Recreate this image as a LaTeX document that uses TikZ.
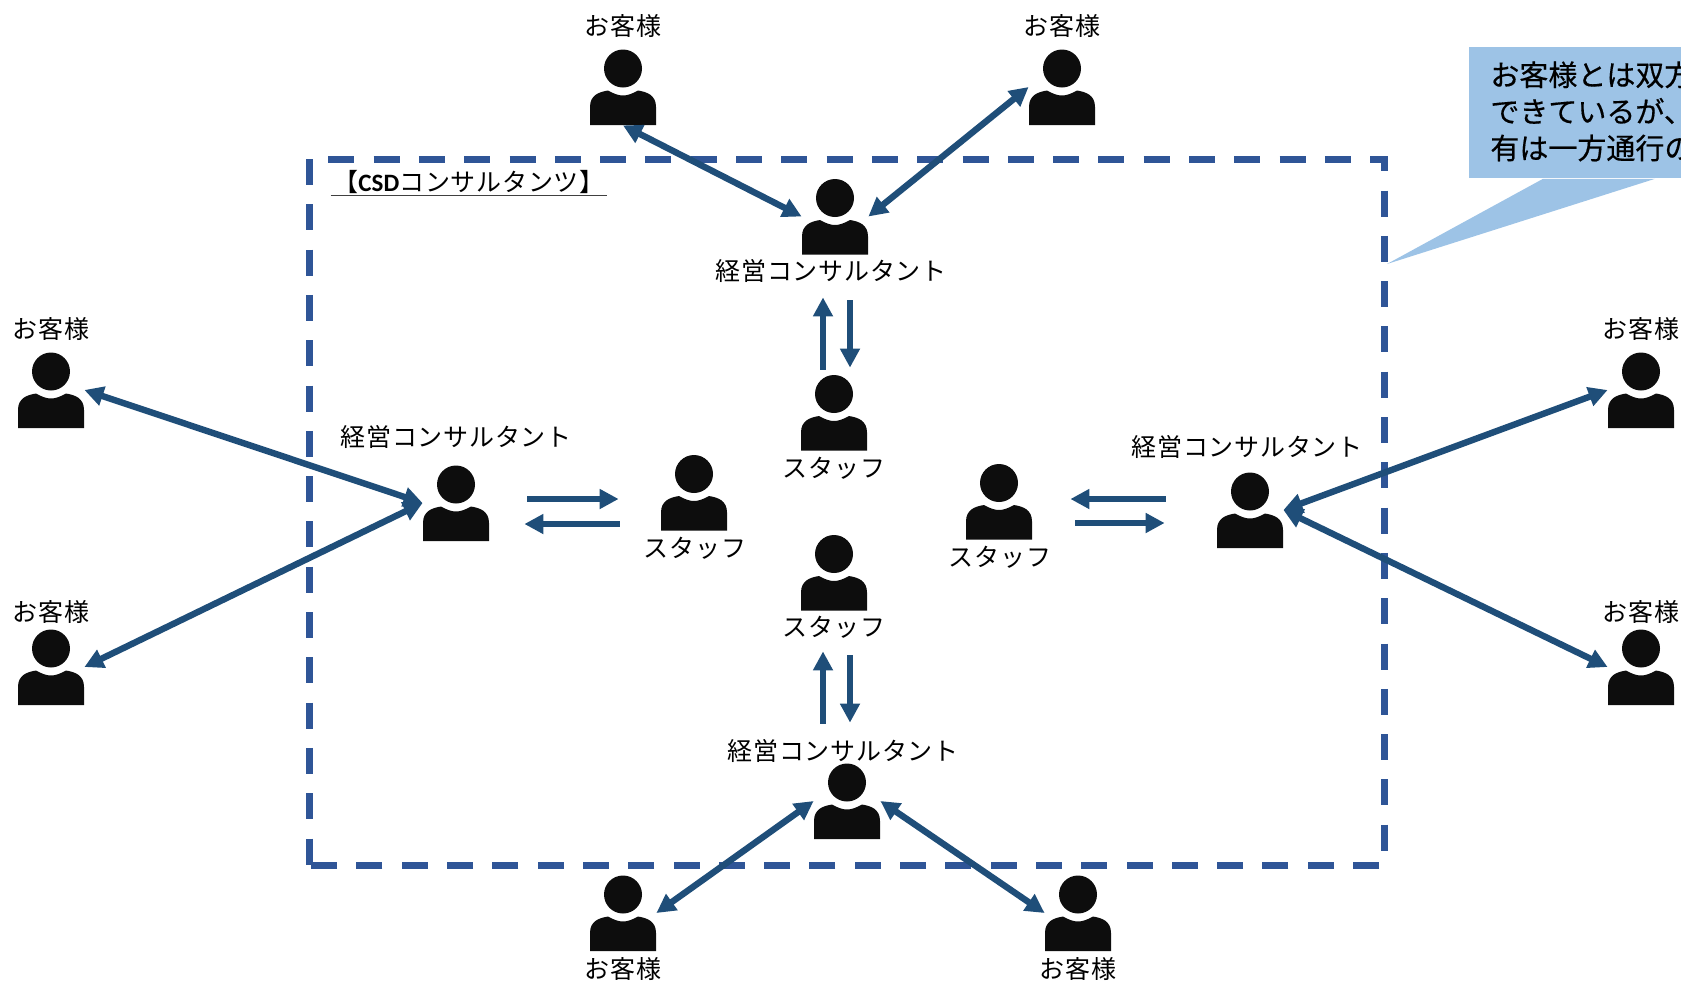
\documentclass[tikz,border=0pt]{standalone}
\usepackage{fontspec}
\setmainfont[LetterSpace=3]{Noto Sans CJK JP}
\newfontfamily\notefont[FakeBold=0.4]{Noto Sans CJK JP}
\newfontfamily\latinfont[BoldFont=Carlito Bold]{Carlito}
\usetikzlibrary{shapes}
\usetikzlibrary{arrows.meta}
\definecolor{linkblue}{HTML}{1F4E79}
\definecolor{boxblue}{HTML}{2F5597}
\definecolor{noteblue}{HTML}{9DC3E6}
\definecolor{iconblack}{HTML}{0D0D0D}
\tikzset{
	lbl_n/.style = {align=center, inner sep=0pt, text centered,
		font=\fontsize{12.5pt}{15pt}\selectfont},% texte sous ou sur un pictogramme
	pers_n/.style = {rectangle, inner sep=0pt, minimum width=33pt, minimum height=38pt,
		path picture={
			\fill[iconblack, shift={(path picture bounding box.center)}]
				(0,-18.5) circle (9.5pt)
				(-33,38) -- (-33,20) .. controls (-33,8) and (-24,5) .. (-15,3.5)
				.. controls (-9,7) and (-4,8.5) .. (0,8.5)
				.. controls (4,8.5) and (9,7) .. (15,3.5)
				.. controls (24,5) and (33,8) .. (33,20) -- (33,38) -- cycle;
		}},% pictogramme
	link_n/.style = {draw=linkblue, line width=3.2pt, >={Triangle[length=9.5pt,width=9.5pt]}},% liaison
	box_n/.style = {draw=boxblue, line width=3.5pt, dash pattern=on 13pt off 9.65pt},
	note_n/.style = {rectangle, fill=noteblue, anchor=north west, inner xsep=10.5pt, inner ysep=0pt,
		text width=110pt, align=left, text height=19.2pt, text depth=46.3pt,
		font=\notefont\fontsize{14.5pt}{18.3pt}\selectfont}
}
\begin{document}
\begin{tikzpicture}[x=0.5pt,y=-0.5pt]
	\useasboundingbox (0,0) rectangle (1681,981);
	% cadre
	\draw[box_n, dash phase=13pt] (309,159) -- (1384,159) -- (1384,865) -- (309,865);
	\draw[box_n] (309,159) -- (309,865);
	\node[lbl_n, minimum width=138pt, text height=11pt, text depth=2pt] (title) at (469,182)
		{【{\latinfont\bfseries CSD}コンサルタンツ】};
	\draw[black!75, line width=0.7pt] (title.south west) -- (title.south east);
	% bulle
	\coordinate (tip) at (1387,264);
	\node[note_n] (note) at (1469,47) {お客様とは双方\\できているが、\\有は一方通行の};
	\fill[noteblue] ([xshift=37pt]note.south west) -- (tip) -- ([xshift=93pt]note.south west) -- cycle;
	% pictogrammes
	\node[pers_n] (cust_a) at (623,87) {};
	\node[pers_n] (cust_b) at (1062,87) {};
	\node[pers_n] (cust_c) at (51,390) {};
	\node[pers_n] (cust_d) at (51,667) {};
	\node[pers_n] (cust_e) at (1641,390) {};
	\node[pers_n] (cust_f) at (1641,667) {};
	\node[pers_n] (cust_g) at (623,913) {};
	\node[pers_n] (cust_h) at (1078,913) {};
	\node[pers_n] (cons_t) at (835,216.5) {};
	\node[pers_n] (cons_l) at (456,503) {};
	\node[pers_n] (cons_r) at (1250,510) {};
	\node[pers_n] (cons_b) at (847,801) {};
	\node[pers_n] (staff_t) at (834,412.5) {};
	\node[pers_n] (staff_l) at (694,492.5) {};
	\node[pers_n] (staff_r) at (999,501.5) {};
	\node[pers_n] (staff_b) at (834,572.5) {};
	% textes
	\node[lbl_n] (cust_al) at (623,26) {お客様};
	\node[lbl_n] (cust_bl) at (1062,26) {お客様};
	\node[lbl_n] (cust_cl) at (51,329) {お客様};
	\node[lbl_n] (cust_dl) at (51,612) {お客様};
	\node[lbl_n] (cust_el) at (1641,329) {お客様};
	\node[lbl_n] (cust_fl) at (1641,612) {お客様};
	\node[lbl_n] (cust_gl) at (623,969) {お客様};
	\node[lbl_n] (cust_hl) at (1078,969) {お客様};
	\node[lbl_n] (cons_tl) at (831,271) {経営コンサルタント};
	\node[lbl_n] (cons_ll) at (456,437) {経営コンサルタント};
	\node[lbl_n] (cons_rl) at (1247,447) {経営コンサルタント};
	\node[lbl_n] (cons_bl) at (843,751) {経営コンサルタント};
	\node[lbl_n] (staff_tl) at (834,468) {スタッフ};
	\node[lbl_n] (staff_ll) at (695,548) {スタッフ};
	\node[lbl_n] (staff_rl) at (1000,557) {スタッフ};
	\node[lbl_n] (staff_bl) at (834,627) {スタッフ};
	% liaisons clients
	\draw[link_n,<->] (cust_a.south) -- (cons_t.west);
	\draw[link_n,<->] (cust_b.west) -- (cons_t.east);
	\draw[link_n,<->] (cust_c.east) -- (cons_l.west);
	\draw[link_n,<->] (cust_d.east) -- (cons_l.west);
	\draw[link_n,<->] (cust_e.west) -- (cons_r.east);
	\draw[link_n,<->] (cust_f.west) -- (cons_r.east);
	\draw[link_n,<->] (cust_g.east) -- (cons_b.west);
	\draw[link_n,<->] (cust_h.west) -- (cons_b.east);
	% liaisons internes
	\draw[link_n,->] ([shift={(38,-4)}]cons_l.east) -- ([shift={(-42,6.5)}]staff_l.west);
	\draw[link_n,->] ([shift={(-41,31.5)}]staff_l.west) -- ([shift={(35,21)}]cons_l.east);
	\draw[link_n,->] ([shift={(-11,-4.5)}]staff_t.north) -- ([shift={(-12,42.5)}]cons_t.south);
	\draw[link_n,->] ([shift={(15,45.5)}]cons_t.south) -- ([shift={(16,-6.5)}]staff_t.north);
	\draw[link_n,->] ([shift={(-24,-39)}]cons_b.north) -- ([shift={(-11,40.5)}]staff_b.south);
	\draw[link_n,->] ([shift={(16,44.5)}]staff_b.south) -- ([shift={(3,-40)}]cons_b.north);
	\draw[link_n,->] ([shift={(-51,-11)}]cons_r.west) -- ([shift={(38,-2.5)}]staff_r.east);
	\draw[link_n,->] ([shift={(43,21.5)}]staff_r.east) -- ([shift={(-52,13)}]cons_r.west);
\end{tikzpicture}
\end{document}
